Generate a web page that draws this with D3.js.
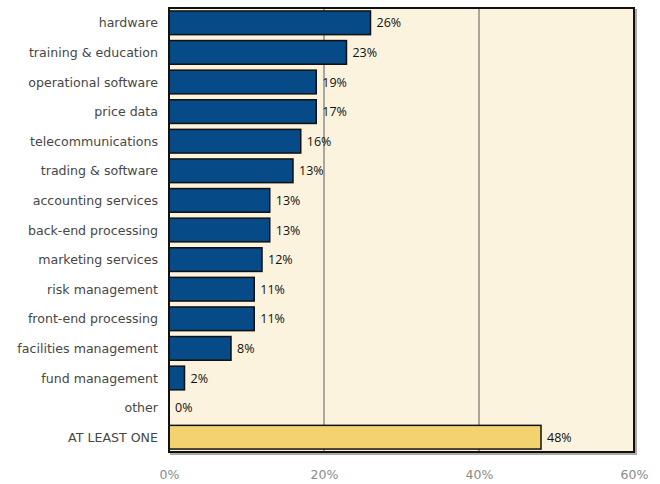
<!DOCTYPE html>
<html><head><meta charset="utf-8">
<script src="https://cdn.jsdelivr.net/npm/d3@7"></script>
<style>body{margin:0;background:#fff}svg{display:block}</style>
</head><body>
<svg id="c" width="660" height="484"></svg>
<script>
const categories = ["hardware","training & education","operational software","price data","telecommunications","trading & software","accounting services","back-end processing","marketing services","risk management","front-end processing","facilities management","fund management","other","AT LEAST ONE"];
const values = [26, 22.9, 19, 19, 17, 16, 13, 13, 12, 11, 11, 8, 2, 0, 48];
const valueLabels = ["26%","23%","19%","17%","16%","13%","13%","13%","12%","11%","11%","8%","2%","0%","48%"];
const tickValues = [0, 20, 40, 60];
const tickLabels = ["0%","20%","40%","60%"];

const svg = d3.select("#c");
const L = 169, R = 634, T = 8, B = 452;
const x = d3.scaleLinear().domain([0, 60]).range([L, R]);
const y = d3.scaleBand().domain(categories).range([T, B]).paddingInner(0.2).paddingOuter(0.1);

// shadow
svg.append("rect").attr("x", L+2).attr("y", T+2).attr("width", R-L).attr("height", B-T)
  .attr("fill", "none").attr("stroke", "#aaa").attr("stroke-width", 2);
// background
svg.append("rect").attr("x", L).attr("y", T).attr("width", R-L).attr("height", B-T)
  .attr("fill", "#fbf3dd");
// gridlines
svg.append("g").selectAll("line").data([20, 40]).join("line")
  .attr("x1", d => x(d)).attr("x2", d => x(d)).attr("y1", T).attr("y2", B)
  .attr("stroke", "#5a5a5a").attr("stroke-width", 1);
// bars
svg.append("g").selectAll("rect").data(values).join("rect")
  .attr("x", x(0)).attr("y", (d, i) => y(categories[i]))
  .attr("width", d => x(d) - x(0)).attr("height", y.bandwidth())
  .attr("display", d => d > 0 ? null : "none")
  .attr("fill", (d, i) => i === categories.length - 1 ? "#f3d370" : "#064a88")
  .attr("stroke", "#111").attr("stroke-width", 1.5);
// value labels
svg.append("g").selectAll("text").data(values).join("text")
  .attr("x", d => x(d) + 6).attr("y", (d, i) => y(categories[i]) + y.bandwidth()/2)
  .attr("dy", "0.36em")
  .attr("font-family", "'Open Sans', sans-serif").attr("font-size", 12.5).attr("fill", "#111")
  .text((d, i) => valueLabels[i]);
// frame
svg.append("rect").attr("x", L).attr("y", T).attr("width", R-L).attr("height", B-T)
  .attr("fill", "none").attr("stroke", "#111").attr("stroke-width", 2);
// category labels
svg.append("g").selectAll("text").data(categories).join("text")
  .attr("x", 158).attr("y", d => y(d) + y.bandwidth()/2).attr("dy", "0.36em")
  .attr("text-anchor", "end")
  .attr("font-family", "'DejaVu Sans', sans-serif").attr("font-size", 12.6).attr("fill", "#474747")
  .text(d => d);
// x axis tick labels
const ax = svg.append("g").attr("transform", `translate(0,${B})`)
  .call(d3.axisBottom(x).tickValues(tickValues).tickFormat((d, i) => tickLabels[i]).tickSize(0).tickPadding(18));
ax.select(".domain").remove();
ax.selectAll("text").attr("font-family", "'DejaVu Sans', sans-serif").attr("font-size", 12.5).attr("fill", "#8a8a8a");
</script>
</body></html>
